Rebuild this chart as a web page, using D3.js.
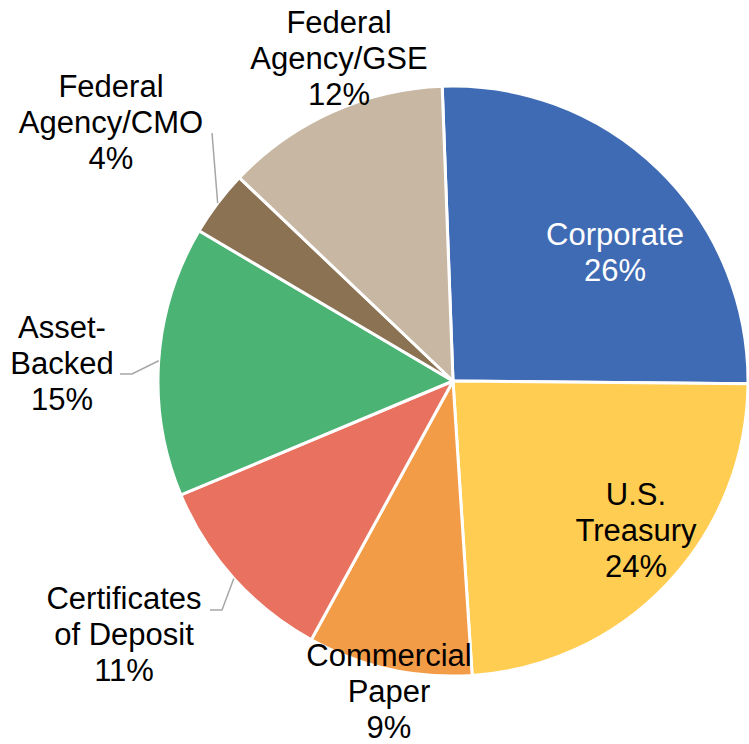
<!DOCTYPE html>
<html>
<head>
<meta charset="utf-8">
<script src="https://cdn.jsdelivr.net/npm/d3@7/dist/d3.min.js"></script>
<style>
  html, body { margin: 0; padding: 0; background: #ffffff; }
  svg { display: block; }
</style>
</head>
<body>
<svg id="chart" width="749" height="744"></svg>
<script>
// Portfolio allocation by sector (share of total, %)
const categories = [
  "Corporate",
  "U.S.\nTreasury",
  "Commercial\nPaper",
  "Certificates\nof Deposit",
  "Asset-\nBacked",
  "Federal\nAgency/CMO",
  "Federal\nAgency/GSE"
];
const shares = [25.7, 23.8, 9.0, 10.7, 14.8, 3.6, 12.3];
const sliceColors = ["#3f6bb4", "#ffcd51", "#f39c48", "#e8725f", "#4bb373", "#8a7253", "#c8b8a3"];
const labelColors = ["#ffffff", "#000000", "#000000", "#000000", "#000000", "#000000", "#000000"];

// Layout
const width = 749, height = 744;
const cx = 453, cy = 381, radius = 295;
const fontSize = 31, lineHeight = 36;
const startAngle = -2.1 * Math.PI / 180;

// Label anchor (centre x, first baseline) and leader-line elbows per slice
const labelLayout = [
  { x: 615, y: 245 },
  { x: 636, y: 505 },
  { x: 389, y: 666 },
  { x: 124, y: 609, leader: [[222, 610], [210, 610]] },
  { x: 62,  y: 338, leader: [[132, 374], [120, 374]] },
  { x: 111, y: 97,  leader: [[212, 133]] },
  { x: 339, y: 33 }
];

const total = d3.sum(shares);
const data = categories.map((c, i) => ({
  name: c,
  value: shares[i],
  color: sliceColors[i],
  labelColor: labelColors[i],
  pct: Math.round(shares[i] / total * 100) + "%",
  layout: labelLayout[i]
}));

const svg = d3.select("#chart");
const g = svg.append("g").attr("transform", `translate(${cx},${cy})`);

const pie = d3.pie()
  .sort(null)
  .value(d => d.value)
  .startAngle(startAngle)
  .endAngle(startAngle + 2 * Math.PI);

const arc = d3.arc().innerRadius(0).outerRadius(radius);
const rim = d3.arc().innerRadius(radius).outerRadius(radius);

const arcs = pie(data);

g.selectAll("path.slice")
  .data(arcs)
  .join("path")
  .attr("class", "slice")
  .attr("d", arc)
  .attr("fill", d => d.data.color)
  .attr("stroke", "#ffffff")
  .attr("stroke-width", 3)
  .attr("stroke-linejoin", "round");

// Leader lines from the slice rim to the outside labels
svg.append("g")
  .selectAll("polyline")
  .data(arcs.filter(d => d.data.layout.leader))
  .join("polyline")
  .attr("points", d => {
    const [px, py] = rim.centroid(d);
    const pts = [[px + cx, py + cy]].concat(d.data.layout.leader);
    return pts.map(p => p.join(",")).join(" ");
  })
  .attr("fill", "none")
  .attr("stroke", "#a6a6a6")
  .attr("stroke-width", 1.5);

// Category and percentage labels
const labels = svg.append("g")
  .attr("font-family", "'Liberation Sans', Arial, Helvetica, sans-serif")
  .attr("font-size", fontSize)
  .attr("text-anchor", "middle");

labels.selectAll("text")
  .data(arcs)
  .join("text")
  .attr("fill", d => d.data.labelColor)
  .each(function(d) {
    const lines = d.data.name.split("\n").concat([d.data.pct]);
    const t = d3.select(this);
    lines.forEach((ln, i) => {
      t.append("tspan")
        .attr("x", d.data.layout.x)
        .attr("y", d.data.layout.y + i * lineHeight)
        .text(ln);
    });
  });
</script>
</body>
</html>
